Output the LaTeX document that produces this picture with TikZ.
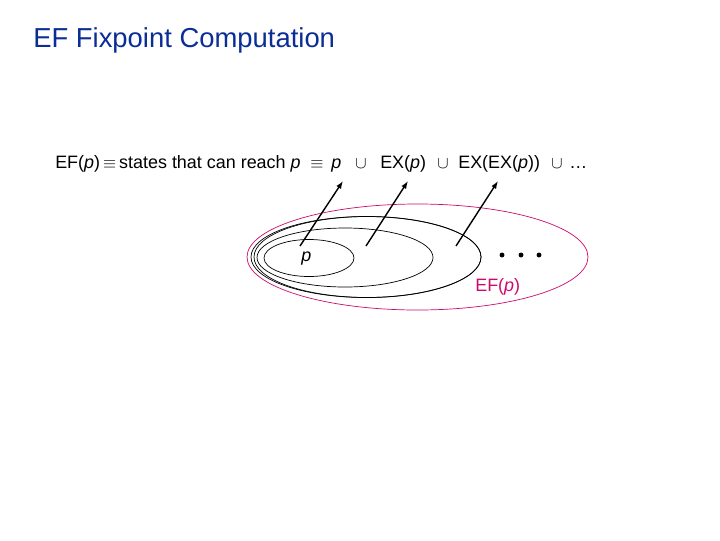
\documentclass[tikz,border=0pt]{standalone}
\usepackage{fontspec}
\setmainfont{Liberation Sans}
\usetikzlibrary{arrows.meta}
\definecolor{titleblue}{RGB}{10,45,150}
\definecolor{efpink}{RGB}{204,10,110}
\tikzstyle{title}=[anchor=base west,inner sep=0,text=titleblue,font=\fontsize{19.5}{24}\selectfont]
\tikzstyle{formula}=[anchor=base west,inner sep=0,font=\fontsize{12.75}{15}\selectfont]
\tikzstyle{set}=[draw,line width=0.5pt]
\tikzstyle{reach}=[line width=1pt,-{Latex[length=5.5pt,width=4pt]}]
\tikzstyle{dot}=[circle,fill,inner sep=0,minimum size=3.5pt]

\begin{document}
\begin{tikzpicture}[x=0.025cm,y=0.025cm]
\useasboundingbox (0,0) rectangle (720,-540);
\node[title] at (33,-47) (head) {EF Fixpoint Computation};
\node[formula] at ( 55,-168) (lhs)  {EF(\textit{p})\,$\equiv$\,states that can reach \textit{p}};
\node[formula] at (310,-168) (eq)   {$\equiv$};
\node[formula] at (331,-168) (p0)   {\textit{p}};
\node[formula] at (355,-168) (cup1) {$\cup$};
\node[formula] at (380,-168) (ex1)  {EX(\textit{p})};
\node[formula] at (437,-168) (cup2) {$\cup$};
\node[formula] at (458,-168) (ex2)  {EX(EX(\textit{p}))};
\node[formula] at (551,-168) (cup3) {$\cup$};
\node[formula] at (569,-168) (more) {…};
% the sets
\draw[set]            (309.0,-258.0) ellipse ( 45.0 and 18.5);
\draw[set]            (345.0,-257.5) ellipse ( 88.0 and 29.5);
\draw[set]            (367.5,-257.0) ellipse (113.5 and 40.5);
\draw[set]            (366.0,-257.0) ellipse (115.0 and 40.5);
\draw[set,draw=efpink](417.5,-257.0) ellipse (170.5 and 53.0);
\node[formula] at (301,-261) (p-set) {\textit{p}};
\node[formula,text=efpink] at (475,-291) (ef-set) {EF(\textit{p})};
\node[dot] at (502,-255) (dot1) {};
\node[dot] at (521,-255) (dot2) {};
\node[dot] at (539,-255) (dot3) {};
\coordinate (src0) at (300,-246);
\coordinate (src1) at (366,-246);
\coordinate (src2) at (456,-246);
\coordinate (tip0) at (343,-181);
\coordinate (tip1) at (408,-181);
\coordinate (tip2) at (498,-181);
\draw[reach] (src0) -- (tip0);
\draw[reach] (src1) -- (tip1);
\draw[reach] (src2) -- (tip2);
\end{tikzpicture}
\end{document}
